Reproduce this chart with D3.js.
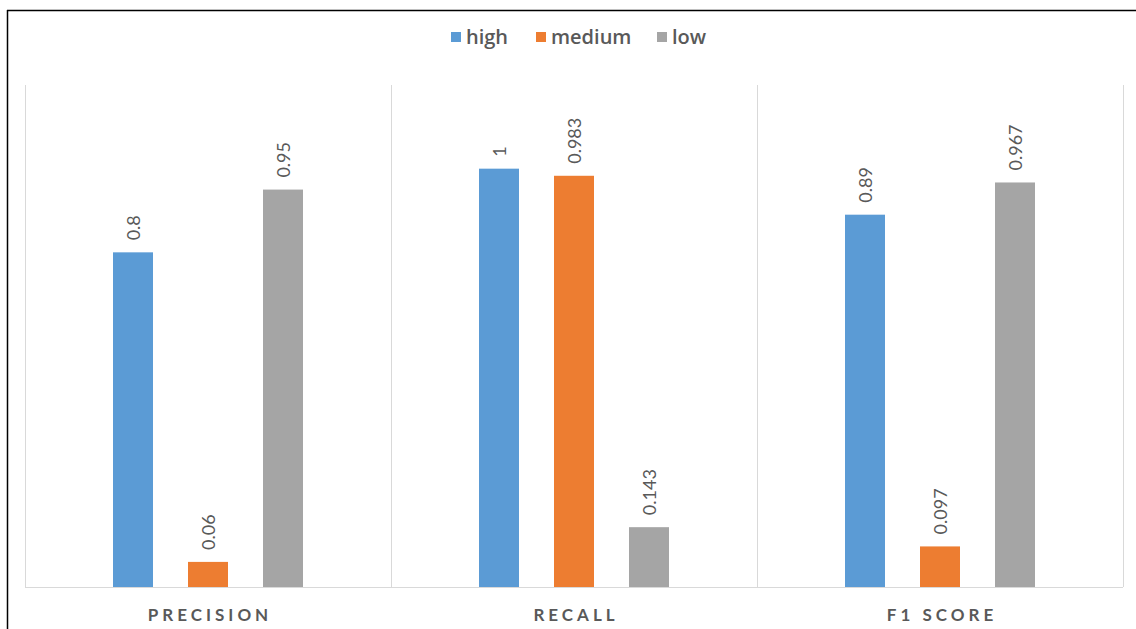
<!DOCTYPE html>
<html>
<head>
<meta charset="utf-8">
<script src="https://cdn.jsdelivr.net/npm/d3@7"></script>
<style>
  html, body { margin: 0; padding: 0; background: #fff; }
  svg { display: block; }
</style>
</head>
<body>
<svg id="chart" width="1136" height="629"></svg>
<script>
// Metric groups along the x axis
const categories = ["PRECISION", "RECALL", "F1 SCORE"];
// One series per class
const seriesNames = ["high", "medium", "low"];
const highValues = [0.8, 1, 0.89];
const mediumValues = [0.06, 0.983, 0.097];
const lowValues = [0.95, 0.143, 0.967];
const valueLabels = [
  ["0.8", "1", "0.89"],
  ["0.06", "0.983", "0.097"],
  ["0.95", "0.143", "0.967"]
];
const colors = ["#5b9bd5", "#ed7d31", "#a5a5a5"];

const seriesValues = [highValues, mediumValues, lowValues];

const svg = d3.select("#chart");
const W = 1136, H = 629;

// Outer frame lines (top and left)
svg.append("line").attr("x1", 7).attr("x2", W).attr("y1", 10.5).attr("y2", 10.5)
  .attr("stroke", "#000").attr("stroke-width", 1.5);
svg.append("line").attr("x1", 7.5).attr("x2", 7.5).attr("y1", 10).attr("y2", H)
  .attr("stroke", "#000").attr("stroke-width", 1.5);

const plot = { left: 25, right: 1123, top: 85, bottom: 587 };

const x0 = d3.scaleBand().domain(categories).range([plot.left, plot.right]).padding(0);
const y = d3.scaleLinear().domain([0, 1.2]).range([plot.bottom, plot.top]);
const barW = 40, barStep = 75;
const x1 = d3.scaleBand().domain(seriesNames)
  .range([-barStep * 1.5, barStep * 1.5]).paddingInner((barStep - barW) / barStep).paddingOuter((barStep - barW) / barStep / 2);

// Vertical separators between categories
const seps = [plot.left, ...categories.map(c => x0(c) + x0.bandwidth())];
svg.append("g").selectAll("line").data(seps).join("line")
  .attr("x1", d => Math.round(d) + 0.5).attr("x2", d => Math.round(d) + 0.5)
  .attr("y1", plot.top).attr("y2", plot.bottom)
  .attr("stroke", "#d9d9d9").attr("stroke-width", 1);

// Bars and rotated value labels
const groups = svg.append("g").selectAll("g").data(categories).join("g")
  .attr("transform", c => `translate(${x0(c) + x0.bandwidth() / 2},0)`);

groups.each(function (c, ci) {
  const g = d3.select(this);
  seriesNames.forEach((s, si) => {
    const v = seriesValues[si][ci];
    const bx = x1(s);
    g.append("rect")
      .attr("x", bx).attr("width", x1.bandwidth())
      .attr("y", y(v)).attr("height", y(0) - y(v))
      .attr("fill", colors[si]);
    g.append("text")
      .attr("transform", `translate(${bx + x1.bandwidth() / 2 + 7},${y(v) - 12}) rotate(-90)`)
      .attr("text-anchor", "start")
      .attr("font-family", "Lato, 'Open Sans', sans-serif")
      .attr("font-size", 18)
      .attr("fill", "#595959")
      .text(valueLabels[si][ci]);
  });
});

// Baseline axis
svg.append("line").attr("x1", plot.left).attr("x2", plot.right)
  .attr("y1", plot.bottom + 0.5).attr("y2", plot.bottom + 0.5)
  .attr("stroke", "#d9d9d9").attr("stroke-width", 1);

// Category labels
svg.append("g").selectAll("text").data(categories).join("text")
  .attr("x", c => x0(c) + x0.bandwidth() / 2 + 2)
  .attr("y", 621)
  .attr("text-anchor", "middle")
  .attr("font-family", "Lato, 'Open Sans', sans-serif")
  .attr("font-weight", "bold")
  .attr("font-size", 17)
  .attr("letter-spacing", 4)
  .attr("fill", "#595959")
  .text(c => c);

// Legend
const legendItems = [
  { name: "high", sq: 451 },
  { name: "medium", sq: 536 },
  { name: "low", sq: 657 }
];
const lg = svg.append("g").selectAll("g").data(legendItems).join("g");
lg.append("rect").attr("x", d => d.sq).attr("y", 32).attr("width", 10).attr("height", 10)
  .attr("fill", (d, i) => colors[i]);
lg.append("text").attr("x", d => d.sq + 15).attr("y", 44)
  .attr("font-family", "'Open Sans', Lato, sans-serif")
  .attr("font-weight", 600)
  .attr("font-size", 20)
  .attr("fill", "#595959")
  .text(d => d.name);
</script>
</body>
</html>
